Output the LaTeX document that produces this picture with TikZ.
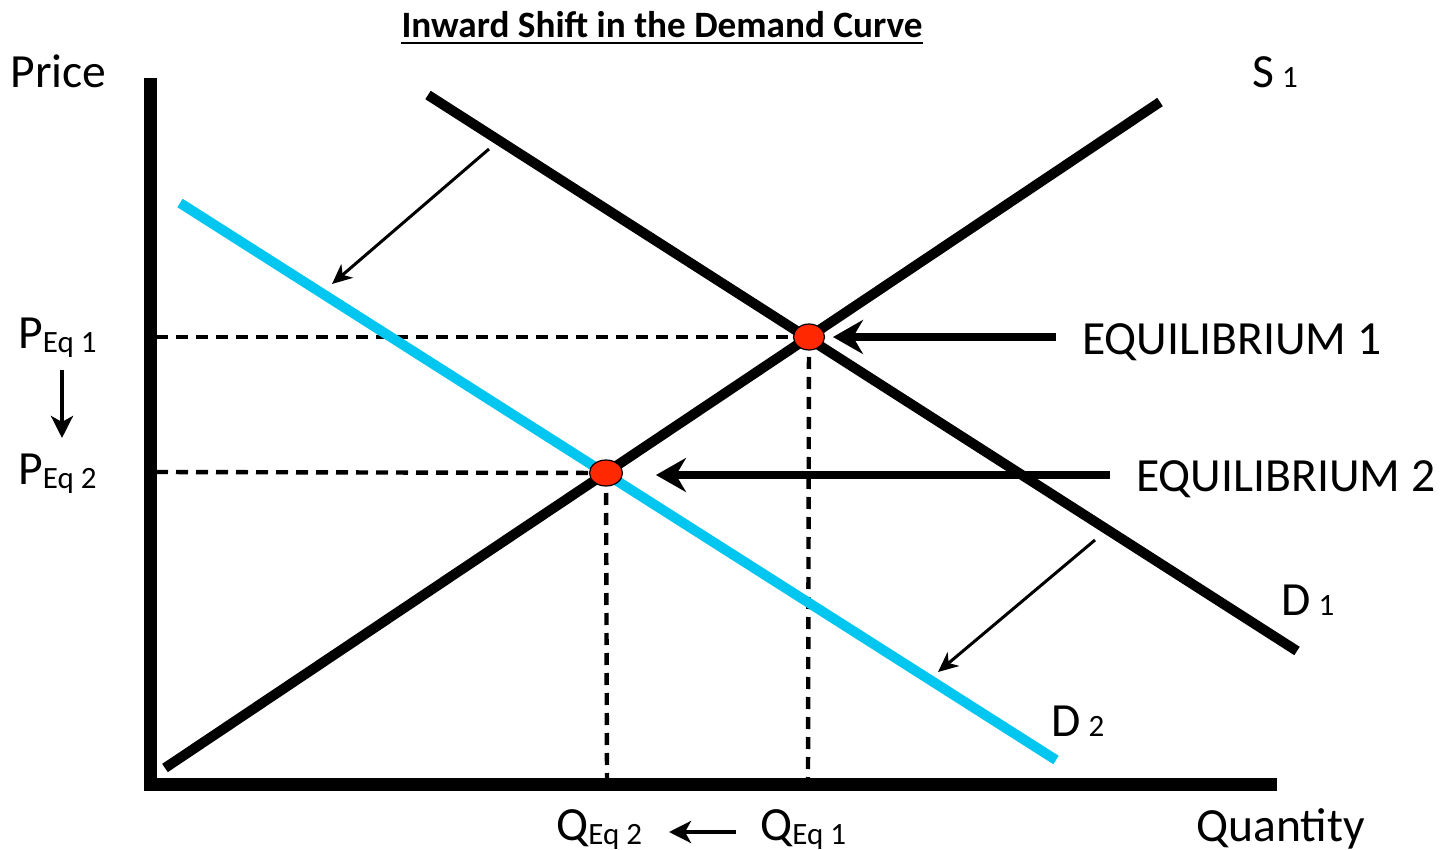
\documentclass[tikz,border=0pt]{standalone}
\usepackage{fontspec}
\setmainfont{Carlito}
\usetikzlibrary{arrows.meta,shapes.geometric}
\definecolor{dcyan}{RGB}{0,198,240}
\definecolor{eqred}{RGB}{255,40,0}
\newcommand{\subfnt}{\fontsize{15.5}{17}\selectfont}
\tikzset{
  axis/.style={line width=6.5pt},
  curve/.style={line width=5pt},
  dcurve/.style={line width=5pt, dcyan},
  guide/.style={line width=2.2pt, dash pattern=on 6pt off 4pt},
  bigarrow/.style={line width=4pt, -{Stealth[length=15pt, width=17pt, inset=5pt]}},
  thinarrow/.style={line width=1.5pt, -{Stealth[length=10pt, width=9pt, inset=3pt]}},
  midarrow/.style={line width=2pt, -{Stealth[length=11pt, width=11pt, inset=3pt]}},
  eqpt/.style={ellipse, draw=black, line width=0.6pt, fill=eqred, minimum width=15.5pt, minimum height=13pt, inner sep=0pt},
  lbl/.style={anchor=base west, inner sep=0pt, font=\fontsize{23.8}{27}\selectfont}
}
\begin{document}
\begin{tikzpicture}[x=0.5pt,y=-0.5pt]
\useasboundingbox (0,0) rectangle (1447,850);
% title
\node[anchor=base, inner sep=0pt, font=\fontsize{18.6}{22}\bfseries\selectfont] (title) at (662,38) {Inward Shift in the Demand Curve};
\draw[line width=1pt] ([yshift=-2.5pt]title.base west) -- ([yshift=-2.5pt]title.base east);
% axes
\coordinate (ytop) at (150,78);
\coordinate (origin) at (150,784);
\coordinate (xend) at (1277,784);
\draw[axis, line join=miter] (ytop) -- (origin) -- (xend);
% curves
\coordinate (s1a) at (165,768);
\coordinate (s1b) at (1160,102);
\coordinate (d1a) at (428,95);
\coordinate (d1b) at (1297,651);
\coordinate (d2a) at (180,203);
\coordinate (d2b) at (1056,760);
% equilibrium points
\coordinate (e1) at (809,337);
\coordinate (e2) at (606,473);
% guides
\coordinate (py1) at (156,337);
\coordinate (py2) at (156,472);
\coordinate (qx1) at (808,778);
\coordinate (qx2) at (607,778);
\draw[guide] (py1) -- (e1);
\draw[guide] (py2) -- (e2);
\draw[guide] (e1) -- (qx1);
\draw[guide] (e2) -- (qx2);
\draw[dcurve] (d2a) -- (d2b);
\draw[curve] (s1a) -- (s1b);
\draw[curve] (d1a) -- (d1b);
\node[eqpt] (eq1) at (e1) {};
\node[eqpt, minimum width=16.5pt] (eq2) at (e2) {};
% labels
\node[lbl] (price) at (10,88) {Price};
\node[lbl] (s1) at (1252,88) {S\,{\subfnt 1}};
\node[lbl] (d1) at (1281,615) {D\,{\subfnt 1}};
\node[lbl] (d2) at (1051,736) {D\,{\subfnt 2}};
\node[lbl] (pe1) at (18,349) {P\raisebox{-2pt}{\subfnt Eq 1}};
\node[lbl] (pe2) at (18,484) {P\raisebox{-2pt}{\subfnt Eq 2}};
\node[lbl] (qe2) at (556,840) {Q\raisebox{-2pt}{\subfnt Eq 2}};
\node[lbl] (qe1) at (760,840) {Q\raisebox{-2pt}{\subfnt Eq 1}};
\node[lbl] (qty) at (1196,841) {Quantity};
\node[lbl] (lab1) at (1082,355) {EQUILIBRIUM 1};
\node[lbl] (lab2) at (1136,491) {EQUILIBRIUM 2};
% arrows
\coordinate (a1s) at (1056,337);
\coordinate (a1e) at (833,337);
\coordinate (a2s) at (1110,475);
\coordinate (a2e) at (656,475);
\draw[bigarrow] (a1s) -- (a1e);
\draw[bigarrow] (a2s) -- (a2e);
\coordinate (sh1s) at (489,149);
\coordinate (sh1e) at (332,284);
\coordinate (sh2s) at (1095,540);
\coordinate (sh2e) at (938,672);
\draw[thinarrow] (sh1s) -- (sh1e);
\draw[thinarrow] (sh2s) -- (sh2e);
\coordinate (pa1) at (62,370);
\coordinate (pa2) at (62,438);
\draw[midarrow] (pa1) -- (pa2);
\coordinate (qa1) at (736,832);
\coordinate (qa2) at (669,832);
\draw[midarrow] (qa1) -- (qa2);
\end{tikzpicture}
\end{document}
